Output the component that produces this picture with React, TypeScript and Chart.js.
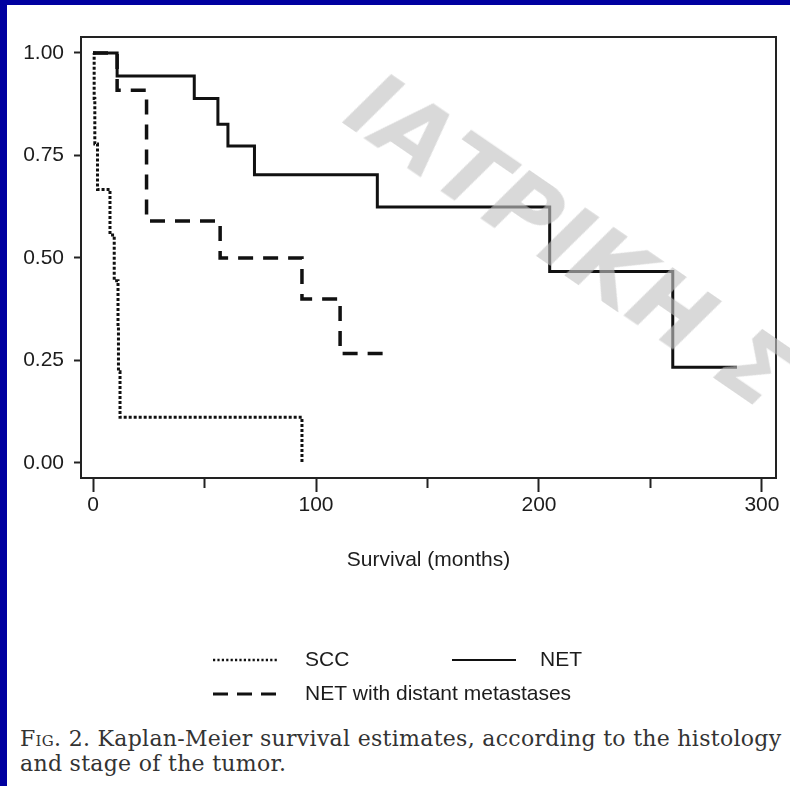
import React, { useEffect, useRef } from 'react';
import { Chart, registerables } from 'chart.js';

Chart.register(...registerables);

// ---- data ----
const seriesLabels = ['SCC', 'NET', 'NET with distant metastases'];

const sccMonths = [0, 0.5, 0.8, 2, 7.6, 9.5, 11.2, 11.4, 12.1, 93.7];
const sccSurvival = [1, 0.889, 0.778, 0.667, 0.556, 0.444, 0.333, 0.222, 0.111, 0];

const netMonths = [0, 10.8, 45.4, 56, 60.5, 72.4, 127.5, 204.8, 260, 288.8];
const netSurvival = [1, 0.944, 0.889, 0.826, 0.773, 0.703, 0.624, 0.467, 0.233, 0.233];

const metMonths = [0, 10.8, 24, 57, 93.7, 110.8, 132];
const metSurvival = [1, 0.909, 0.59, 0.5, 0.4, 0.267, 0.267];

const xTickValues = [0, 50, 100, 150, 200, 250, 300];
const xTickLabels = ['0', '', '100', '', '200', '', '300'];
const yTickValues = [0, 0.25, 0.5, 0.75, 1];
const yTickLabels = ['0.00', '0.25', '0.50', '0.75', '1.00'];

const xAxisTitle = 'Survival (months)';
const watermarkText = 'ΙΑΤΡΙΚΗ Σ';

// ---- styles ----
const FONT_FAMILY = "'Liberation Sans', Arial, Helvetica, sans-serif";
const TEXT_COLOR = '#1c1c1c';
const INK = '#111111';

const toPoints = (xs: number[], ys: number[]) => xs.map((x, i) => ({ x, y: ys[i] }));

const legendLayout = [
  { ds: 0, x: 213, y: 660, textX: 305, dash: [2.2, 2.2], width: 2.6 },
  { ds: 1, x: 452, y: 660, textX: 540, dash: [], width: 2.2 },
  { ds: 2, x: 213, y: 694, textX: 305, dash: [15, 9], width: 3 },
];

const legendPlugin = {
  id: 'kmLegend',
  afterDraw(chart: any) {
    const ctx = chart.ctx;
    ctx.save();
    legendLayout.forEach((item) => {
      const ds = chart.data.datasets[item.ds];
      ctx.beginPath();
      ctx.setLineDash(item.dash);
      ctx.lineWidth = item.width;
      ctx.strokeStyle = INK;
      ctx.lineCap = 'butt';
      ctx.moveTo(item.x, item.y);
      ctx.lineTo(item.x + 64, item.y);
      ctx.stroke();
      ctx.setLineDash([]);
      ctx.fillStyle = TEXT_COLOR;
      ctx.font = `21px ${FONT_FAMILY}`;
      ctx.textAlign = 'left';
      ctx.textBaseline = 'middle';
      ctx.fillText(ds.label, item.textX, item.y);
    });
    ctx.restore();
  },
};

const framePlugin = {
  id: 'kmFrame',
  afterDatasetsDraw(chart: any) {
    const { ctx, chartArea } = chart;
    ctx.save();
    ctx.strokeStyle = '#222';
    ctx.lineWidth = 2;
    ctx.strokeRect(chartArea.left, chartArea.top, chartArea.right - chartArea.left, chartArea.bottom - chartArea.top);
    ctx.restore();
  },
};

export default function App() {
  const canvasRef = useRef<HTMLCanvasElement | null>(null);

  useEffect(() => {
    if (!canvasRef.current) return;
    const font = { family: FONT_FAMILY, size: 21 };
    const chart = new Chart(canvasRef.current, {
      type: 'line',
      data: {
        datasets: [
          {
            label: seriesLabels[0],
            data: toPoints(sccMonths, sccSurvival),
            borderColor: INK,
            borderWidth: 3,
            borderDash: [3, 2],
            stepped: 'before',
            pointRadius: 0,
            fill: false,
            borderCapStyle: 'butt',
            borderJoinStyle: 'miter',
          },
          {
            label: seriesLabels[1],
            data: toPoints(netMonths, netSurvival),
            borderColor: INK,
            borderWidth: 3,
            stepped: 'before',
            pointRadius: 0,
            fill: false,
            borderJoinStyle: 'miter',
          },
          {
            label: seriesLabels[2],
            data: toPoints(metMonths, metSurvival),
            borderColor: INK,
            borderWidth: 3.5,
            borderDash: [15, 10],
            stepped: 'before',
            pointRadius: 0,
            fill: false,
            borderCapStyle: 'butt',
            borderJoinStyle: 'miter',
          },
        ],
      },
      options: {
        animation: false,
        responsive: false,
        maintainAspectRatio: false,
        layout: { padding: { left: 0, right: 14, top: 37, bottom: 147 } },
        plugins: {
          legend: { display: false },
          tooltip: { enabled: false },
          title: { display: false },
        },
        scales: {
          x: {
            type: 'linear',
            min: -5.4,
            max: 306.3,
            afterBuildTicks: (s: any) => {
              s.ticks = xTickValues.map((v) => ({ value: v }));
            },
            afterFit: (s: any) => {
              s.height = 95;
            },
            ticks: {
              callback: (_v: any, i: number) => xTickLabels[i],
              font,
              color: TEXT_COLOR,
              padding: 1,
              maxRotation: 0,
              autoSkip: false,
            },
            grid: {
              drawOnChartArea: false,
              drawTicks: true,
              tickLength: 14,
              tickWidth: 2,
              tickColor: '#222',
              tickBorderDash: (c: any) => (c.tick && c.tick.value % 100 !== 0 ? [9, 100] : []),
            },
            border: { display: true, color: '#222', width: 2 },
            title: {
              display: true,
              text: xAxisTitle,
              font,
              color: TEXT_COLOR,
              padding: { top: 4, bottom: 0 },
            },
          },
          y: {
            type: 'linear',
            min: -0.037,
            max: 1.039,
            afterBuildTicks: (s: any) => {
              s.ticks = yTickValues.map((v) => ({ value: v }));
            },
            afterFit: (s: any) => {
              s.width = 81;
            },
            ticks: {
              callback: (_v: any, i: number) => yTickLabels[i],
              font,
              color: TEXT_COLOR,
              padding: 10,
              autoSkip: false,
            },
            grid: {
              drawOnChartArea: false,
              drawTicks: true,
              tickLength: 7,
              tickWidth: 2,
              tickColor: '#222',
            },
            border: { display: true, color: '#222', width: 2 },
          },
        },
      },
      plugins: [legendPlugin, framePlugin],
    } as any);
    return () => chart.destroy();
  }, []);

  return (
    <div
      style={{
        position: 'absolute',
        left: 0,
        top: 0,
        width: 790,
        height: 786,
        background: '#0000a0',
        overflow: 'hidden',
      }}
    >
      <div style={{ position: 'absolute', left: 7, top: 5, right: 0, bottom: 0, background: '#ffffff' }} />
      <canvas ref={canvasRef} width={790} height={720} style={{ position: 'absolute', left: 0, top: 0, width: 790, height: 720 }} />
      <div
        style={{
          position: 'absolute',
          left: 384,
          top: 58,
          transform: 'rotate(34.5deg)',
          transformOrigin: '0 0',
          font: "italic bold 92px 'DejaVu Sans', sans-serif",
          lineHeight: 1,
          color: 'rgba(193,193,193,0.62)',
          whiteSpace: 'nowrap',
          pointerEvents: 'none',
        }}
      >
        {watermarkText}
      </div>
      <div
        style={{
          position: 'absolute',
          left: 20,
          top: 726,
          font: "22px 'DejaVu Serif', serif",
          lineHeight: '25px',
          letterSpacing: '0.3px',
          color: '#333333',
          whiteSpace: 'nowrap',
        }}
      >
        <span style={{ fontVariant: 'small-caps' }}>Fig.</span> 2. Kaplan-Meier survival estimates, according to the histology
        <br />
        and stage of the tumor.
      </div>
    </div>
  );
}
